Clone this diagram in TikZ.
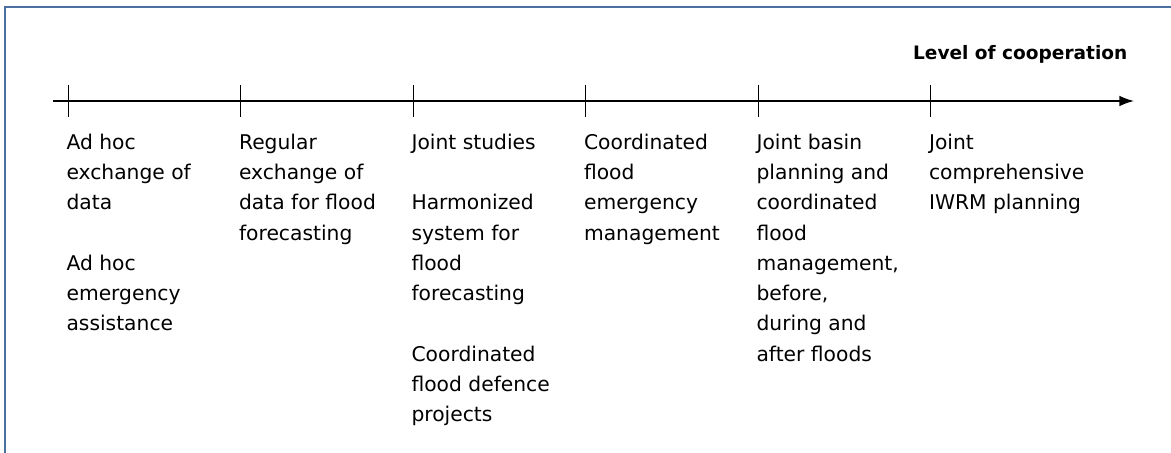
\documentclass[tikz,border=0pt]{standalone}
\usepackage{fontspec}
\setmainfont{DejaVu Sans}
\usetikzlibrary{arrows.meta,positioning}
\definecolor{framecol}{RGB}{74,112,160}

\begin{document}
\begin{tikzpicture}[x=0.75pt,y=0.75pt,>={Latex[length=11pt,width=8pt]},
  stage node/.style={align=left,inner sep=0pt,font=\fontsize{15.2}{22.7}\selectfont},
  tick line/.style={draw,line width=.9pt}]
  \useasboundingbox (0,0) rectangle (1171,453);

  \draw[line width=1.1pt,framecol] (5,0) -- (5,446) -- (1171,446);

  \coordinate (start) at (53,352);
  \coordinate (end) at (1134,352);
  \draw[->,line width=1.1pt] (start) -- (end);
  \foreach \i in {1,...,6}{
    \coordinate (t\i) at ({68.3+172.5*(\i-1)},352);
    \draw[tick line] ([yshift=12pt]t\i) -- ([yshift=-12pt]t\i);
  }

  \node[anchor=base east,font=\bfseries\fontsize{13.9}{16}\selectfont] (level) at (1132,393) {Level of cooperation};

  \node[stage node,below right=24.5pt and -1.5pt of t1] (1) {Ad hoc\\exchange of\\data\\[22.7pt]Ad hoc\\emergency\\assistance};
  \node[stage node,below right=24.5pt and -1.5pt of t2] (2) {Regular\\exchange of\\data for flood\\forecasting};
  \node[stage node,below right=24.5pt and -1.5pt of t3] (3) {Joint studies\\[22.7pt]Harmonized\\system for\\flood\\forecasting\\[22.7pt]Coordinated\\flood defence\\projects};
  \node[stage node,below right=24.5pt and -1.5pt of t4] (4) {Coordinated\\flood\\emergency\\management};
  \node[stage node,below right=24.5pt and -1.5pt of t5] (5) {Joint basin\\planning and\\coordinated\\flood\\management,\\before,\\during and\\after floods};
  \node[stage node,below right=24.5pt and -1.5pt of t6] (6) {Joint\\comprehensive\\IWRM planning};
\end{tikzpicture}
\end{document}
